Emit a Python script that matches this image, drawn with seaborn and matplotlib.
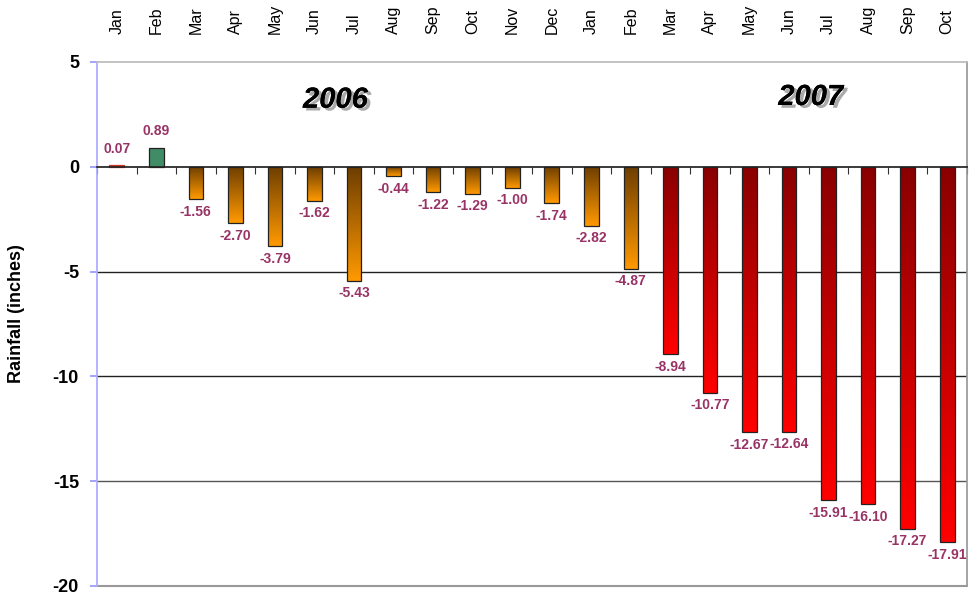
import numpy as np
import pandas as pd
import seaborn as sns
import matplotlib.pyplot as plt
import matplotlib.patheffects as pe
from matplotlib.colors import LinearSegmentedColormap

sns.set_theme(style="white")
plt.rcParams['font.family'] = ['Liberation Sans', 'DejaVu Sans']
plt.rcParams['axes.unicode_minus'] = False
plt.rcParams['text.color'] = 'black'
plt.rcParams['axes.labelcolor'] = 'black'
plt.rcParams['xtick.labelcolor'] = 'black'
plt.rcParams['ytick.labelcolor'] = 'black'

# data
months = ["Jan", "Feb", "Mar", "Apr", "May", "Jun", "Jul", "Aug", "Sep", "Oct", "Nov", "Dec",
          "Jan", "Feb", "Mar", "Apr", "May", "Jun", "Jul", "Aug", "Sep", "Oct"]
years = ["2006"] * 12 + ["2007"] * 10
rainfall = [0.07, 0.89, -1.56, -2.70, -3.79, -1.62, -5.43, -0.44, -1.22, -1.29, -1.00, -1.74,
            -2.82, -4.87, -8.94, -10.77, -12.67, -12.64, -15.91, -16.10, -17.27, -17.91]
level = ["surplus"] + ["wet"] + ["moderate"] * 12 + ["severe"] * 8

base_colors = {"surplus": "#ff5a3c", "wet": "#339966", "moderate": "#ff9900", "severe": "#ff0000"}
top_colors = {"moderate": "#6e3e00", "severe": "#8a0000"}

df = pd.DataFrame({"month": months, "year": years, "rain": rainfall, "level": level})
df["key"] = df["month"] + " " + df["year"]

fig = plt.figure(figsize=(9.69, 5.99), dpi=100)
ax = fig.add_axes([97 / 969, 13 / 599, 870 / 969, 524 / 599])

sns.barplot(data=df, x="key", y="rain", hue="key",
            palette=[base_colors[l] for l in level], legend=False,
            width=0.37, edgecolor="#222222", linewidth=0.9, ax=ax, zorder=3)

# gradient fill on bars
for patch, lv in zip(ax.patches, df["level"]):
    if lv not in top_colors:
        continue
    x0, y0 = patch.get_x(), patch.get_y()
    w, h = patch.get_width(), patch.get_height()
    cmap = LinearSegmentedColormap.from_list("g", [top_colors[lv], base_colors[lv]])
    grad = np.linspace(0, 1, 100).reshape(-1, 1)
    im = ax.imshow(grad, cmap=cmap, aspect="auto", zorder=2.9,
                   extent=[x0, x0 + w, min(y0, y0 + h), max(y0, y0 + h)], origin="upper")
    im.set_clip_path(patch)
    patch.set_facecolor("none")
ax.patches[0].set_edgecolor("#cc3322")

# value labels
for i, v in enumerate(rainfall):
    if v >= 0:
        ax.annotate(f"{v:.2f}", (i, v), xytext=(0, 7), textcoords="offset points",
                    ha="center", va="bottom", color="#993366", fontsize=10, fontweight="bold")
    else:
        ax.annotate(f"{v:.2f}", (i, v), xytext=(0, -4), textcoords="offset points",
                    ha="center", va="top", color="#993366", fontsize=10, fontweight="bold")

# year captions
shadow = [pe.withSimplePatchShadow(offset=(2.5, -2), shadow_rgbFace="#aaaaaa", alpha=1.0), pe.Normal()]
ax.text(5.53, 3.2, "2006", ha="center", va="center", fontsize=21, fontweight="heavy",
        fontstyle="italic", color="black", path_effects=shadow)
ax.text(17.55, 3.33, "2007", ha="center", va="center", fontsize=21, fontweight="heavy",
        fontstyle="italic", color="black", path_effects=shadow)

ax.set_ylim(-20, 5)
ax.set_xlim(-0.5, len(months) - 0.5)
ax.set_yticks(range(-20, 6, 5))
ax.set_xticks(range(len(months)))
ax.set_xticklabels(months)
ax.set_xlabel("")
ax.set_ylabel("Rainfall (inches)", fontsize=13, fontweight="bold")
ax.yaxis.set_label_coords(-0.083, 0.52)

# month labels on top, category ticks along the zero line
ax.tick_params(axis="x", which="major", bottom=False, top=False, labelbottom=False,
               labeltop=True, length=0, pad=20, labelsize=11.5, labelrotation=90)
ax.set_xticks(np.arange(-0.5, len(months), 1), minor=True)
ax.tick_params(axis="x", which="minor", bottom=True, top=False, length=5, width=0.8,
               color="#333333", direction="out")
ax.tick_params(axis="y", left=True, length=5, color="#9999ff", pad=8, labelsize=13)
for t in ax.get_yticklabels():
    t.set_fontweight("bold")

ax.spines["bottom"].set_position(("data", 0))
ax.spines["bottom"].set_color("#222222")
ax.spines["bottom"].set_zorder(4)
ax.spines["left"].set_color("#aaaaff")
ax.spines["top"].set_color("#bbbbbb")
ax.spines["right"].set_color("#999999")
ax.axhline(-20, color="#999999", linewidth=1.5, clip_on=False)
for yv, c in [(-5, "#222222"), (-10, "#222222"), (-15, "#555555")]:
    ax.axhline(yv, color=c, linewidth=1, zorder=1)

fig.savefig("out.png", dpi=100)
